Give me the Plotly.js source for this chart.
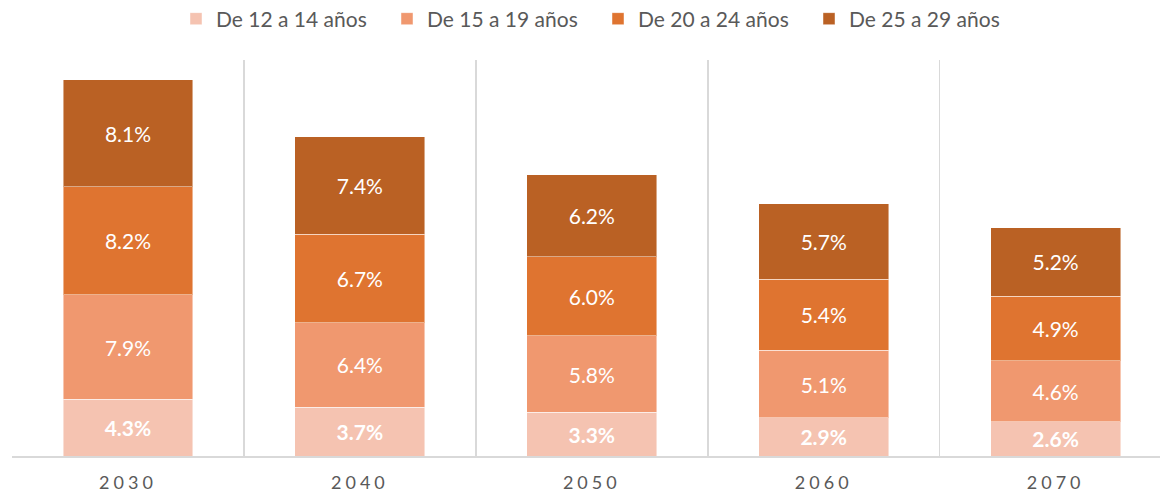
<!DOCTYPE html>
<html>
<head>
<meta charset="utf-8">
<script src="https://cdn.plot.ly/plotly-3.0.1.min.js"></script>
<style>
html,body{margin:0;padding:0;background:#fff;}
#chart{width:1160px;height:495px;}
.xtick text{letter-spacing:4px;}
</style>
</head>
<body>
<div id="chart"></div>
<script>
const years = ["2030", "2040", "2050", "2060", "2070"];
const seriesNames = ["De 12 a 14 años", "De 15 a 19 años", "De 20 a 24 años", "De 25 a 29 años"];
const age12to14 = [4.3, 3.7, 3.3, 2.9, 2.6];
const age15to19 = [7.9, 6.4, 5.8, 5.1, 4.6];
const age20to24 = [8.2, 6.7, 6.0, 5.4, 4.9];
const age25to29 = [8.1, 7.4, 6.2, 5.7, 5.2];
const colors = ["#F5C3B1", "#F0986F", "#DF7430", "#BA6124"];

const seriesValues = [age12to14, age15to19, age20to24, age25to29];
const traces = seriesValues.map((vals, i) => ({
  type: "bar",
  name: seriesNames[i],
  x: years,
  y: vals,
  marker: {color: colors[i], line: {color: "rgba(255,255,255,0.45)", width: 1}},
  texttemplate: i === 0 ? "<b>%{y:.1f}%</b>" : "%{y:.1f}%",
  textposition: "inside",
  insidetextanchor: "middle",
  textangle: 0,
  insidetextfont: {family: "Lato, sans-serif", size: 21, color: "#ffffff"},
  hoverinfo: "skip"
}));

const layout = {
  width: 1160,
  height: 495,
  margin: {l: 12, r: 0, t: 60, b: 39},
  paper_bgcolor: "#ffffff",
  plot_bgcolor: "#ffffff",
  barmode: "stack",
  bargap: 0.44,
  font: {family: "Lato, sans-serif", color: "#595959"},
  xaxis: {
    type: "category",
    range: [-0.5, 4.45],
    tickson: "boundaries",
    showgrid: true,
    gridcolor: "#d9d9d9",
    gridwidth: 1.5,
    showline: true,
    linecolor: "#d9d9d9",
    linewidth: 1.5,
    ticks: "",
    ticklabelstandoff: 10,
    tickfont: {family: "Lato, sans-serif", size: 18, color: "#595959"},
    fixedrange: true
  },
  yaxis: {
    range: [0, 30],
    showgrid: false,
    zeroline: false,
    showticklabels: false,
    showline: false,
    ticks: "",
    fixedrange: true
  },
  showlegend: true,
  legend: {
    orientation: "h",
    xref: "container",
    yref: "container",
    x: 176 / 1160,
    xanchor: "left",
    y: 1 - 19 / 495,
    yanchor: "middle",
    entrywidth: 166,
    traceorder: "normal",
    font: {family: "Lato, sans-serif", size: 21, color: "#595959"},
    itemclick: false,
    itemdoubleclick: false
  }
};

Plotly.newPlot("chart", traces, layout, {displayModeBar: false, staticPlot: true});
</script>
</body>
</html>
